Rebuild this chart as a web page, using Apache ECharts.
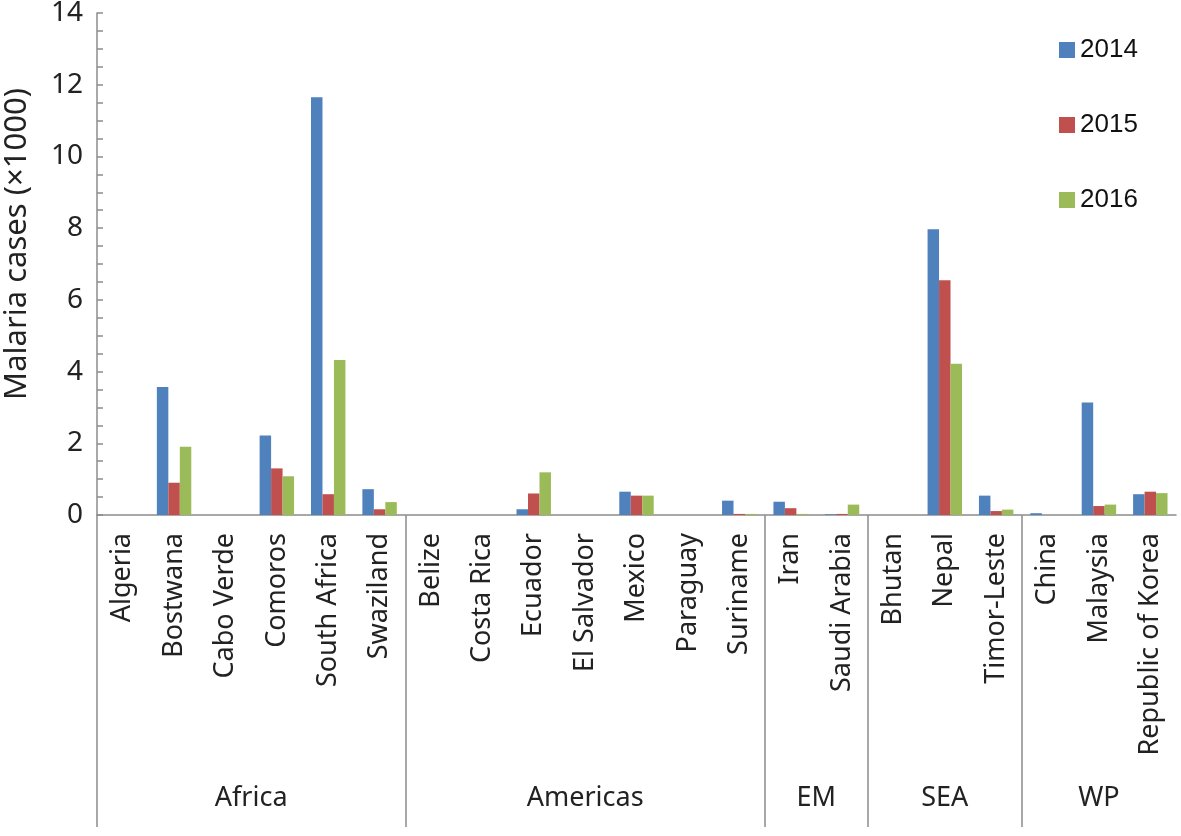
<!DOCTYPE html>
<html>
<head>
<meta charset="utf-8">
<script src="https://cdn.jsdelivr.net/npm/echarts@6/dist/echarts.min.js"></script>
<style>
html,body{margin:0;padding:0;background:#fff;}
#chart{width:1181px;height:836px;}
</style>
</head>
<body>
<div id="chart"></div>
<script>
const countries = ['Algeria','Bostwana','Cabo Verde','Comoros','South Africa','Swaziland',
  'Belize','Costa Rica','Ecuador','El Salvador','Mexico','Paraguay','Suriname',
  'Iran','Saudi Arabia','Bhutan','Nepal','Timor-Leste','China','Malaysia','Republic of Korea'];
const regions = ['Africa','Americas','EM','SEA','WP'];
const regionCounts = [6,7,2,3,3];
const seriesNames = ['2014','2015','2016'];
const cases2014 = [0,3.57,0,2.22,11.65,0.72, 0,0,0.16,0,0.65,0,0.40, 0.37,0.02, 0,7.97,0.54, 0.05,3.14,0.58];
const cases2015 = [0,0.90,0,1.30,0.58,0.16, 0,0,0.60,0,0.54,0,0.03, 0.19,0.03, 0,6.55,0.11, 0,0.25,0.65];
const cases2016 = [0,1.90,0,1.08,4.32,0.36, 0,0,1.19,0,0.54,0,0.03, 0.03,0.29, 0,4.22,0.15, 0,0.29,0.61];
const yTicks = [0,2,4,6,8,10,12,14];

const colors = ['#4F81BD','#C0504D','#9BBB59'];
const axisGray = '#8c8c8c';
const textColor = '#222';
const font = "Noto Sans";

const bounds = [0];
regionCounts.forEach(c => bounds.push(bounds[bounds.length-1] + c));
const centers = regionCounts.map((c,i) => bounds[i] + c/2);
const separators = bounds.slice(0, bounds.length-1);

const chart = echarts.init(document.getElementById('chart'));
const allSeries = [cases2014, cases2015, cases2016];
chart.setOption({
  animation: false,
  color: colors,
  textStyle: {fontFamily: font},
  grid: {left: 97, right: 5, top: 13, bottom: 321, containLabel: false, outerBoundsMode: 'none'},
  legend: {
    orient: 'vertical', left: 1054, top: 32, itemGap: 49,
    itemWidth: 16, itemHeight: 16, icon: 'rect',
    textStyle: {fontFamily: "Liberation Sans", fontSize: 26, color: '#111'},
    data: seriesNames
  },
  xAxis: [{
    type: 'category', data: countries, position: 'bottom',
    axisLine: {lineStyle: {color: axisGray, width: 1.5}},
    axisTick: {show: false},
    axisLabel: {interval: 0, rotate: 90, margin: 18, fontFamily: font, fontSize: 27, color: textColor}
  },{
    type: 'value', min: 0, max: countries.length, position: 'bottom',
    axisLine: {show: false},
    splitLine: {show: false},
    axisTick: {show: true, customValues: separators, length: 312, lineStyle: {color: axisGray, width: 1.5}},
    axisLabel: {
      customValues: centers, margin: 270, fontFamily: font, fontSize: 27, color: textColor,
      formatter: v => { const i = centers.indexOf(v); return i >= 0 ? regions[i] : ''; }
    }
  }],
  yAxis: {
    type: 'value', min: 0, max: 14, interval: 2,
    name: 'Malaria cases (×1000)', nameLocation: 'middle', nameGap: 64,
    nameTextStyle: {fontFamily: font, fontSize: 31, color: textColor, padding: [0, 0, 0, 40]},
    axisLine: {show: true, lineStyle: {color: axisGray, width: 1.5}},
    axisTick: {show: true, inside: true, length: 6, lineStyle: {color: axisGray, width: 1.5}},
    minorTick: {show: true, splitNumber: 4, length: 6, lineStyle: {color: axisGray, width: 1.5}},
    splitLine: {show: false},
    axisLabel: {margin: 14, fontFamily: font, fontSize: 28, color: textColor,
      formatter: v => yTicks.indexOf(v) >= 0 ? String(v) : ''}
  },
  series: seriesNames.map((n, i) => ({
    name: n, type: 'bar', xAxisIndex: 0, data: allSeries[i],
    barGap: '0%', barCategoryGap: '33%',
    itemStyle: {color: colors[i]}
  }))
});
</script>
</body>
</html>
